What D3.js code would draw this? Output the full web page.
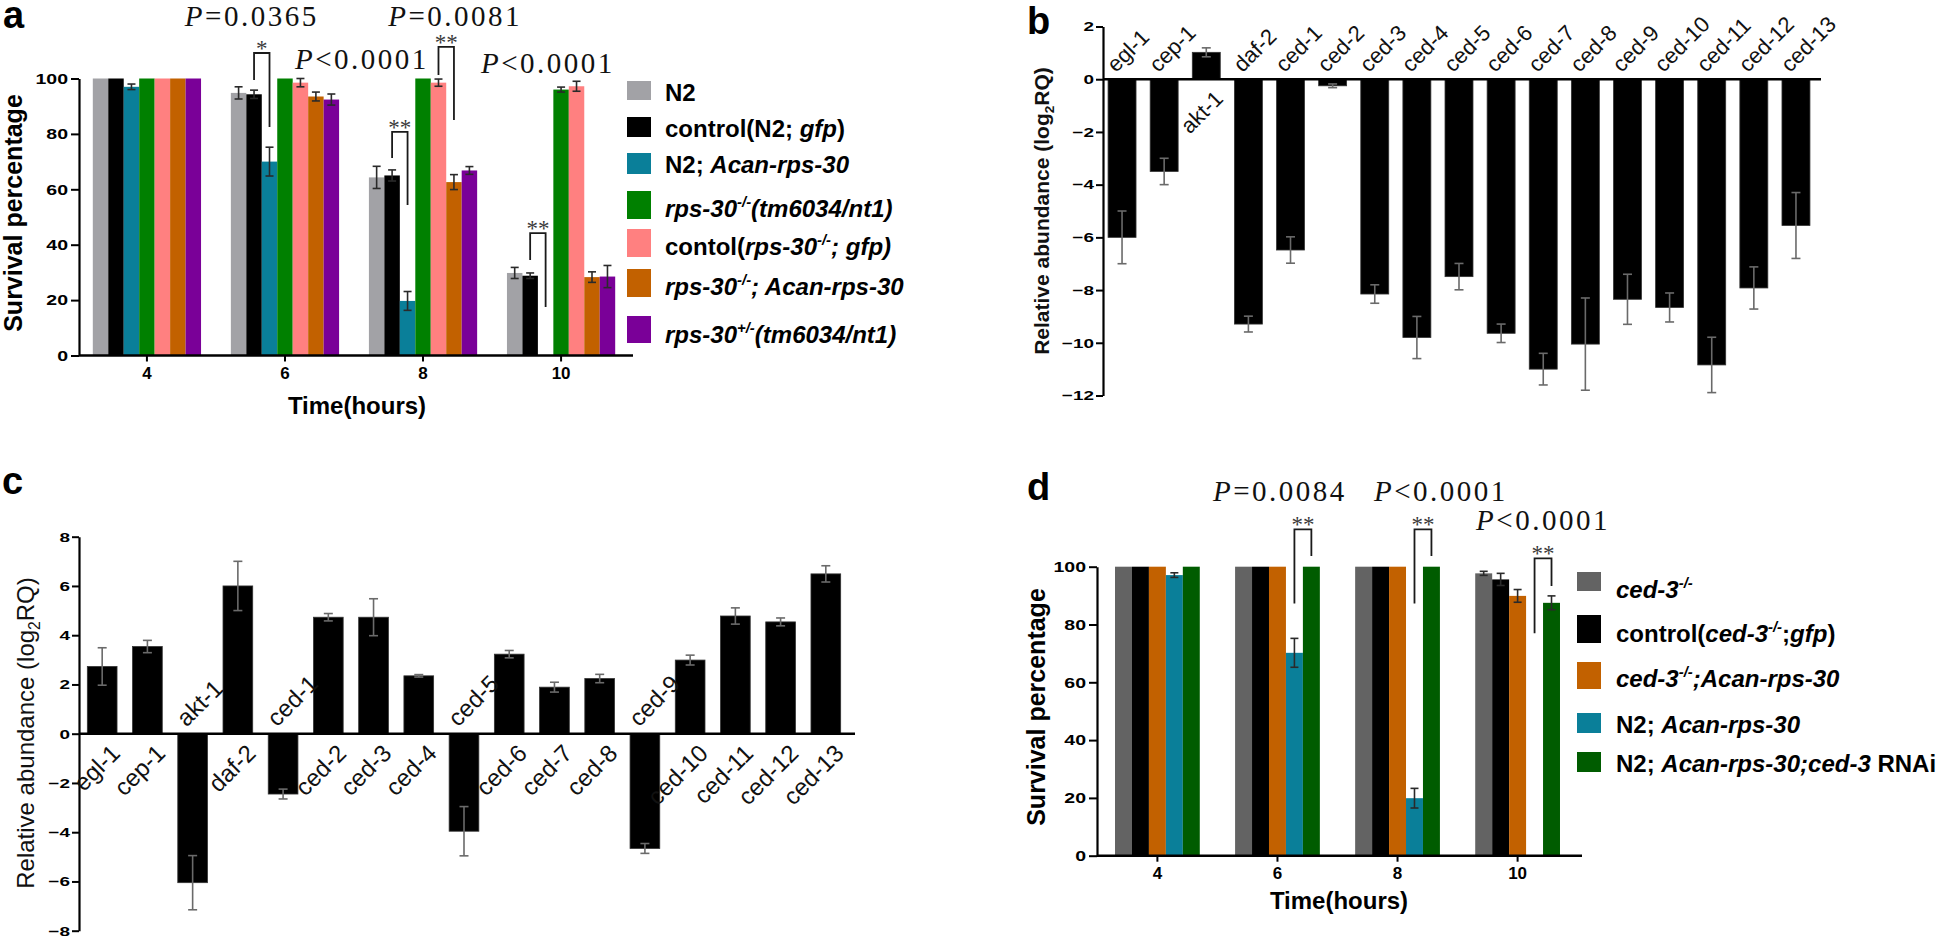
<!DOCTYPE html>
<html><head><meta charset="utf-8">
<script src="https://cdn.jsdelivr.net/npm/d3@7"></script>
<style>
body{margin:0;background:#fff}
</style>
</head><body>
<script>
// ---------- DATA ----------
const timeLabels = ["4","6","8","10"];

// Panel a
const seriesA = ["N2","control(N2; gfp)","N2; Acan-rps-30","rps-30-/-(tm6034/nt1)","contol(rps-30-/-; gfp)","rps-30-/-; Acan-rps-30","rps-30+/-(tm6034/nt1)"];
const valuesA = [
  [100, 94.8, 64.3, 29.8],
  [100, 94.3, 65.0, 28.8],
  [97.0, 70.0, 19.7, 0],
  [100, 100, 100, 96.0],
  [100, 98.5, 98.5, 97.2],
  [100, 93.5, 62.6, 28.3],
  [100, 92.4, 66.8, 28.5]
];
const errorsA = [
  [0, 2.2, 4.0, 2.0],
  [0, 1.5, 2.0, 1.0],
  [1.0, 5.2, 3.4, 0],
  [0, 0, 0, 0.9],
  [0, 1.5, 1.3, 1.8],
  [0, 1.6, 2.7, 1.9],
  [0, 2.0, 1.4, 4.0]
];

// Panels b, c
const genes = ["egl-1","cep-1","akt-1","daf-2","ced-1","ced-2","ced-3","ced-4","ced-5","ced-6","ced-7","ced-8","ced-9","ced-10","ced-11","ced-12","ced-13"];
const valuesB = [-6.0, -3.5, 1.02, -9.29, -6.48, -0.25, -8.15, -9.8, -7.49, -9.64, -11.0, -10.05, -8.35, -8.66, -10.84, -7.92, -5.55];
const errorsB = [1.0, 0.5, 0.17, 0.3, 0.5, 0.07, 0.35, 0.8, 0.5, 0.35, 0.6, 1.75, 0.95, 0.55, 1.05, 0.8, 1.25];
const valuesC = [2.73, 3.54, -6.05, 6.0, -2.45, 4.73, 4.73, 2.35, -3.96, 3.23, 1.89, 2.24, -4.66, 2.99, 4.78, 4.54, 6.49];
const errorsC = [0.76, 0.25, 1.1, 1.0, 0.2, 0.15, 0.75, 0.05, 1.0, 0.15, 0.2, 0.17, 0.2, 0.2, 0.33, 0.16, 0.33];
const ticksB = [-12,-10,-8,-6,-4,-2,0,2];
const ticksC = [-8,-6,-4,-2,0,2,4,6,8];
const ticksSurv = [0,20,40,60,80,100];

// Panel d
const seriesD = ["ced-3-/-","control(ced-3-/-;gfp)","ced-3-/-;Acan-rps-30","N2; Acan-rps-30","N2; Acan-rps-30;ced-3 RNAi"];
const valuesD = [
  [100, 100, 100, 97.7],
  [100, 100, 100, 95.6],
  [100, 100, 100, 89.9],
  [97.1, 70.2, 19.9, 0],
  [100, 100, 100, 87.5]
];
const errorsD = [
  [0, 0, 0, 0.7],
  [0, 0, 0, 2.1],
  [0, 0, 0, 2.2],
  [0.8, 5.0, 3.4, 0],
  [0, 0, 0, 2.4]
];

// Legend text segments (n = normal, i = italic, s = superscript)
const legendA = [
  [["N2","n"]],
  [["control(N2; ","n"],["gfp","i"],[")","n"]],
  [["N2; ","n"],["Acan-rps-30","i"]],
  [["rps-30","i"],["-/-","s"],["(tm6034/nt1)","i"]],
  [["contol(","n"],["rps-30","i"],["-/-","s"],["; gfp)","i"]],
  [["rps-30","i"],["-/-","s"],["; Acan-rps-30","i"]],
  [["rps-30","i"],["+/-","s"],["(tm6034/nt1)","i"]]
];
const legendD = [
  [["ced-3","i"],["-/-","s"]],
  [["control(","n"],["ced-3","i"],["-/-","s"],[";","n"],["gfp","i"],[")","n"]],
  [["ced-3","i"],["-/-","s"],[";Acan-rps-30","i"]],
  [["N2; ","n"],["Acan-rps-30","i"]],
  [["N2; ","n"],["Acan-rps-30;ced-3","i"],[" RNAi","n"]]
];

// Significance annotations
const annotA = [
  {g:"6", s1:1, s2:2, top:109.2, e1:99.5, e2:82.5, stars:"*", p:"=0.0365", pdx:-10, py:118.8},
  {g:"8", s1:1, s2:2, top:80.7, e1:71.3, e2:54.3, stars:"**", p:"<0.0001", pdx:-38, py:103.4},
  {g:"8", s1:4, s2:5, top:111.4, e1:101.3, e2:85.0, stars:"**", p:"=0.0081", pdx:9, py:118.8},
  {g:"10", s1:1, s2:2, top:44.2, e1:34.5, e2:17.5, stars:"**", p:"<0.0001", pdx:10, py:102.0}
];
const annotD = [
  {g:"6", s1:3, s2:4, top:112.9, e1:87.3, e2:103.7, stars:"**", p:"=0.0084", pdx:-23, py:122.6},
  {g:"8", s1:3, s2:4, top:112.9, e1:87.3, e2:103.7, stars:"**", p:"<0.0001", pdx:18, py:122.7},
  {g:"10", s1:3, s2:4, top:102.9, e1:77.0, e2:93.3, stars:"**", p:"<0.0001", pdx:0, py:112.7}
];

// ---------- STYLE ----------
const colorsA = ["#a2a2a6","#000000","#0a7f99","#008000","#ff8080","#c26100","#7a0098"];
const colorsD = ["#636363","#000000","#c26100","#0a7f99","#005c00"];
const SANS = '"Liberation Sans",Arial,sans-serif';
const SERIF = '"Liberation Serif","Times New Roman",serif';

const svg = d3.select("body").append("svg").attr("width",1948).attr("height",938)
  .attr("font-family",SANS);

function stretch(sel, f){
  sel.each(function(){
    const w = this.getComputedTextLength();
    d3.select(this).attr("textLength", w*f).attr("lengthAdjust","spacingAndGlyphs");
  });
}

function richText(g, x, y, segs, size){
  const t = g.append("text").attr("x",x).attr("y",y)
    .attr("font-size",size).attr("font-weight","bold").attr("fill","#000");
  let raised = false;
  segs.forEach(([s,k])=>{
    const ts = t.append("tspan").text(s);
    if(k==="s"){ ts.attr("font-style","italic").attr("font-size",size*0.62).attr("dy",-size*0.42); raised=true; }
    else {
      ts.attr("font-style", k==="i"?"italic":"normal");
      if(raised){ ts.attr("dy", size*0.42); raised=false; }
    }
  });
  return t;
}

function groupedPanel(o){
  const g = svg.append("g");
  const xi = d3.scaleBand().domain(d3.range(o.values.length)).range([0,o.x.bandwidth()]);
  o.values.forEach((vals,si)=>{
    vals.forEach((v,gi)=>{
      const t = timeLabels[gi];
      const x0 = o.x(t)+xi(si);
      g.append("rect").attr("x",x0).attr("y",o.y(v)).attr("width",xi.bandwidth())
        .attr("height",o.y(0)-o.y(v)).attr("fill",o.colors[si]);
    });
  });
  o.values.forEach((vals,si)=>{
    vals.forEach((v,gi)=>{
      const e = o.errors[si][gi];
      if(!e) return;
      const cx = o.x(timeLabels[gi])+xi(si)+xi.bandwidth()/2;
      const eg = g.append("g").attr("stroke","#2a2a2a").attr("stroke-width",1.6);
      eg.append("line").attr("x1",cx).attr("x2",cx).attr("y1",o.y(v+e)).attr("y2",o.y(v-e));
      [v+e,v-e].forEach(yy=>eg.append("line").attr("x1",cx-4).attr("x2",cx+4).attr("y1",o.y(yy)).attr("y2",o.y(yy)));
    });
  });
  const ya = g.append("g").attr("transform",`translate(${o.x.range()[0]},0)`)
    .call(d3.axisLeft(o.y).tickValues(ticksSurv).tickSize(8).tickSizeOuter(0).tickPadding(3));
  ya.select(".domain").attr("stroke-width",2.2);
  ya.selectAll(".tick line").attr("stroke-width",2);
  ya.selectAll("text").attr("font-size",15).attr("font-weight","bold").attr("font-family",SANS).call(stretch,1.3);
  const xa = g.append("g").attr("transform",`translate(0,${o.y(0)})`)
    .call(d3.axisBottom(o.x).tickSize(6).tickSizeOuter(0).tickPadding(5));
  xa.select(".domain").attr("d",`M${o.x.range()[0]},0H${o.x.range()[1]+4}`).attr("stroke-width",2.4);
  xa.selectAll(".tick line").attr("stroke-width",2);
  xa.selectAll("text").attr("font-size",17).attr("font-weight","bold").attr("font-family",SANS);
  o.annot.forEach(a=>{
    const xl = o.x(a.g)+xi(a.s1)+xi.bandwidth()/2;
    const xr = o.x(a.g)+xi(a.s2)+xi.bandwidth()/2;
    g.append("path").attr("d",`M${xl},${o.y(a.e1)}V${o.y(a.top)}H${xr}V${o.y(a.e2)}`)
      .attr("fill","none").attr("stroke","#1a1a1a").attr("stroke-width",1.8);
    g.append("text").attr("x",(xl+xr)/2).attr("y",o.y(a.top)+3).attr("text-anchor","middle")
      .attr("font-family",SERIF).attr("font-size",23).attr("fill","#3a3a3a").text(a.stars);
    const pt = g.append("text").attr("x",(xl+xr)/2+a.pdx).attr("y",o.y(a.py)).attr("text-anchor","middle")
      .attr("font-family",SERIF).attr("font-size",29).attr("letter-spacing",2.5).attr("fill","#111");
    pt.append("tspan").attr("font-style","italic").text("P");
    pt.append("tspan").text(a.p);
  });
  g.append("text").attr("transform",`translate(${o.ylabX},${o.ylabY}) rotate(-90)`).attr("text-anchor","middle")
    .attr("font-size",25).attr("font-weight","bold").text("Survival percentage");
  g.append("text").attr("x",o.xlabX).attr("y",o.xlabY).attr("text-anchor","middle")
    .attr("font-size",24).attr("font-weight","bold").text("Time(hours)");
  o.legend.forEach((segs,i)=>{
    const r = o.legRows[i];
    g.append("rect").attr("x",o.legX).attr("y",r[0]).attr("width",24).attr("height",r[1]).attr("fill",o.colors[i]);
    richText(g, o.legTextX, r[2], segs, 24);
  });
  g.append("text").attr("x",o.panelX).attr("y",o.panelY).attr("font-size",38).attr("font-weight","bold").text(o.panel);
}

function genePanel(o){
  const g = svg.append("g");
  const x = o.x, y = o.y;
  g.selectAll("rect.bar").data(genes).join("rect")
    .attr("x",d=>x(d)).attr("width",x.bandwidth())
    .attr("y",(d,i)=>Math.min(y(o.values[i]),y(0)))
    .attr("height",(d,i)=>Math.abs(y(o.values[i])-y(0)))
    .attr("fill","#000").attr("stroke","#333").attr("stroke-width",0.8);
  genes.forEach((d,i)=>{
    const v=o.values[i], e=o.errors[i], cx=x(d)+x.bandwidth()/2;
    const eg = g.append("g").attr("stroke","#6a6a6a").attr("stroke-width",1.6);
    eg.append("line").attr("x1",cx).attr("x2",cx).attr("y1",y(v+e)).attr("y2",y(v-e));
    [v+e,v-e].forEach(yy=>eg.append("line").attr("x1",cx-4.5).attr("x2",cx+4.5).attr("y1",y(yy)).attr("y2",y(yy)));
  });
  const ya = g.append("g").attr("transform",`translate(${x.range()[0]},0)`)
    .call(d3.axisLeft(y).tickValues(o.ticks).tickSize(7).tickSizeOuter(0).tickPadding(2)
      .tickFormat(t=> t<0 ? "\u2212"+(-t) : String(t)));
  ya.select(".domain").attr("stroke-width",2.2);
  ya.selectAll(".tick line").attr("stroke-width",2);
  ya.selectAll("text").attr("font-size",13.5).attr("font-weight","bold").attr("font-family",SANS).call(stretch,1.4);
  g.append("line").attr("x1",x.range()[0]).attr("x2",x.range()[1]+6).attr("y1",y(0)).attr("y2",y(0))
    .attr("stroke","#000").attr("stroke-width",2.4);
  genes.forEach((d,i)=>{
    const v=o.values[i], cx=x(d)+x.bandwidth()/2;
    const lab = g.append("text").attr("font-size",o.labSize).attr("fill","#111").text(d);
    if(v<0){
      const px = cx-6, py = y(0)-6;
      lab.attr("x",px).attr("y",py).attr("transform",`rotate(-45 ${px} ${py})`);
    } else {
      const px = cx+x.bandwidth()*0.65, py = y(0)+21;
      lab.attr("x",px).attr("y",py).attr("text-anchor","end").attr("transform",`rotate(-45 ${px} ${py})`);
    }
  });
  const yl = g.append("text").attr("transform",`translate(${o.ylabX},${o.ylabY}) rotate(-90)`).attr("text-anchor","middle")
    .attr("font-size",o.ylabSize).attr("font-weight",o.ylabWeight).attr("fill","#111");
  yl.append("tspan").text("Relative abundance (log");
  yl.append("tspan").attr("font-size",o.ylabSize*0.65).attr("dy",o.ylabSize*0.25).text("2");
  yl.append("tspan").attr("dy",-o.ylabSize*0.25).text("RQ)");
  g.append("text").attr("x",o.panelX).attr("y",o.panelY).attr("font-size",38).attr("font-weight","bold").text(o.panel);
}

// ---------- PANELS ----------
groupedPanel({
  x: d3.scaleBand().domain(timeLabels).range([79,629]).paddingInner(0.216).paddingOuter(0.1),
  y: d3.scaleLinear().domain([0,100]).range([355.5,78.5]),
  values: valuesA, errors: errorsA, colors: colorsA, annot: annotA,
  ylabX: 22, ylabY: 213, xlabX: 357, xlabY: 414,
  legend: legendA, legX: 627, legTextX: 665,
  legRows: [[81,19,100.7],[117,20,137.3],[153,21,173.3],[191,28,216.7],[229,28,255],[269,28,295],[316,27,343.3]],
  panel: "a", panelX: 3, panelY: 28
});

genePanel({
  x: d3.scaleBand().domain(genes).range([1103,1815]).paddingInner(0.336).paddingOuter(0.12),
  y: d3.scaleLinear().domain([-12,2]).range([395.5,26.5]),
  values: valuesB, errors: errorsB, ticks: ticksB, labSize: 22,
  ylabX: 1049, ylabY: 211, ylabSize: 21, ylabWeight: "bold",
  panel: "b", panelX: 1027, panelY: 34
});

genePanel({
  x: d3.scaleBand().domain(genes).range([79,849]).paddingInner(0.343).paddingOuter(0.184),
  y: d3.scaleLinear().domain([-8,8]).range([930.7,536.7]),
  values: valuesC, errors: errorsC, ticks: ticksC, labSize: 24,
  ylabX: 34, ylabY: 733, ylabSize: 24, ylabWeight: "normal",
  panel: "c", panelX: 2, panelY: 494
});

groupedPanel({
  x: d3.scaleBand().domain(timeLabels).range([1097,1578]).paddingInner(0.294).paddingOuter(0.15),
  y: d3.scaleLinear().domain([0,100]).range([855.7,566.7]),
  values: valuesD, errors: errorsD, colors: colorsD, annot: annotD,
  ylabX: 1045, ylabY: 707, xlabX: 1339, xlabY: 909,
  legend: legendD, legX: 1577, legTextX: 1616,
  legRows: [[572,19,598],[615,28,641.7],[662,27,687],[713,20,733],[752,20,771.7]],
  panel: "d", panelX: 1027, panelY: 500
});
</script>
</body></html>
